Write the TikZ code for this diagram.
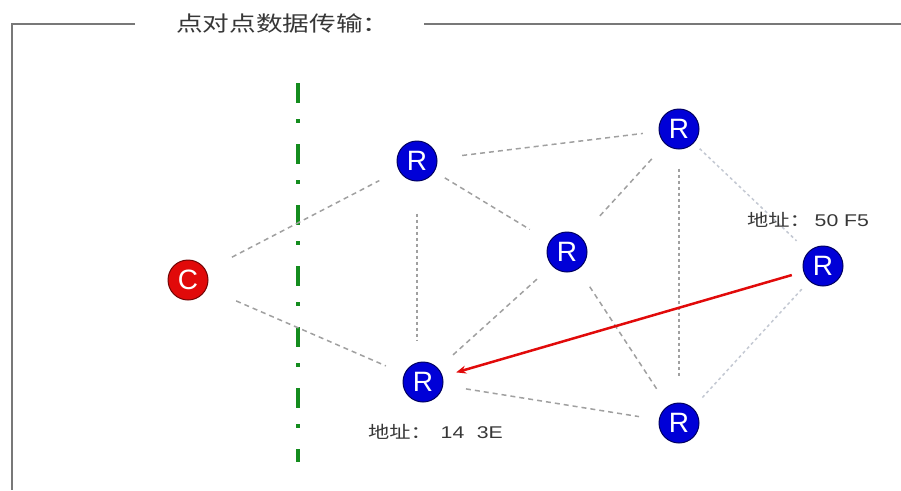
\documentclass[tikz,border=0pt]{standalone}
\usepackage{graphicx}
\usepackage{fontspec}
\setmainfont{Liberation Sans}
\newfontfamily\cjk{Noto Sans CJK SC}
\usetikzlibrary{arrows.meta}
\definecolor{rblue}{RGB}{0,0,215}
\definecolor{cred}{RGB}{225,10,10}
\definecolor{lgreen}{RGB}{20,140,30}
\definecolor{lgray}{RGB}{160,160,160}
\definecolor{llgray}{RGB}{195,200,210}
\definecolor{fgray}{RGB}{120,120,120}
\definecolor{tgray}{RGB}{55,55,55}
\begin{document}
\begin{tikzpicture}[x=1pt,y=-1pt,
  router/.style={circle, fill=rblue, draw=rblue!45!black, line width=1pt, inner sep=0pt,
    minimum size=40pt, text=white, font=\fontsize{28}{28}\selectfont},
  client/.style={circle, fill=cred, draw=cred!50!black, line width=1pt, inner sep=0pt,
    minimum size=40pt, text=white, font=\fontsize{28}{28}\selectfont},
  lnk/.style={draw=lgray, line width=1.5pt, dash pattern=on 5pt off 4pt},
  lnkv/.style={draw=lgray, line width=1.5pt, dash pattern=on 3pt off 3pt},
  lnkl/.style={draw=llgray, line width=1.5pt, dash pattern=on 3pt off 3pt},
  frame/.style={draw=fgray, line width=2pt},
  addr/.style={text=tgray, font=\fontsize{17}{17}\selectfont, inner sep=0pt},
  path/.style={draw=cred, line width=2.5pt, -{Stealth[length=10pt,width=8pt]}}
]
\useasboundingbox (0,0) rectangle (901,490);
% frame
\coordinate (f1) at (135,24);
\coordinate (f0) at (12,24);
\coordinate (fb) at (12,490);
\coordinate (f2) at (424,24);
\coordinate (f3) at (901,24);
\draw[frame] (f1) -- (f0) -- (fb);
\draw[frame] (f2) -- (f3);
\node[text=tgray, font=\cjk\fontsize{21}{21}\selectfont, anchor=west, inner sep=0pt] (title) at (176,24) {\scalebox{1.27}[1]{点对点数据传输：}};
% divider
\coordinate (g0) at (298,83);
\coordinate (g1) at (298,462);
\draw[lgreen, line width=4.5pt, dash pattern=on 20pt off 16pt on 4pt off 21pt] (g0) -- (g1);
% nodes
\node[client] (C) at (188,280) {C};
\node[router] (R1) at (417,161) {R};
\node[router] (R2) at (679,129) {R};
\node[router] (R3) at (567,252) {R};
\node[router] (R4) at (823,266) {R};
\node[router] (R5) at (423,382) {R};
\node[router] (R6) at (679,423) {R};
% links
\draw[lnk, shorten <=29pt, shorten >=22pt] (C) -- (R1);
\draw[lnk, shorten <=32pt, shorten >=20pt] (C) -- (R5);
\draw[lnk, shorten <=25pt, shorten >=16pt] (R1) -- (R2);
\draw[lnk, shorten <=12pt, shorten >=23pt] (R1) -- (R3);
\draw[lnkv, shorten <=32pt, shorten >=42pt] (R1) -- (R1 |- R5);
\draw[lnk, shorten <=20pt, shorten >=27pt] (R2) -- (R3);
\draw[lnkv, shorten <=19pt, shorten >=25pt] (R2) -- (R6);
\draw[lnkl, shorten <=8pt, shorten >=16pt] (R2) -- (R4);
\draw[lnk, shorten <=20pt, shorten >=19pt] (R3) -- (R5);
\draw[lnk, shorten <=21pt, shorten >=18pt] (R3) -- (R6);
\draw[lnkl, shorten <=11pt, shorten >=14pt] (R4) -- (R6);
\draw[lnk, shorten <=23pt, shorten >=20pt] (R5) -- (R6);
% route
\draw[path, shorten <=12pt, shorten >=14pt] (R4) -- (R5);
% addresses
\node[addr, anchor=west] (a4) at (747,220) {\scalebox{1.25}[1]{{\cjk 地址：}\hspace{3pt}50 F5}};
\node[addr, anchor=west] (a5) at (368,432) {\scalebox{1.25}[1]{{\cjk 地址：}\hspace{7pt}14\hspace{10pt}3E}};
\end{tikzpicture}
\end{document}
